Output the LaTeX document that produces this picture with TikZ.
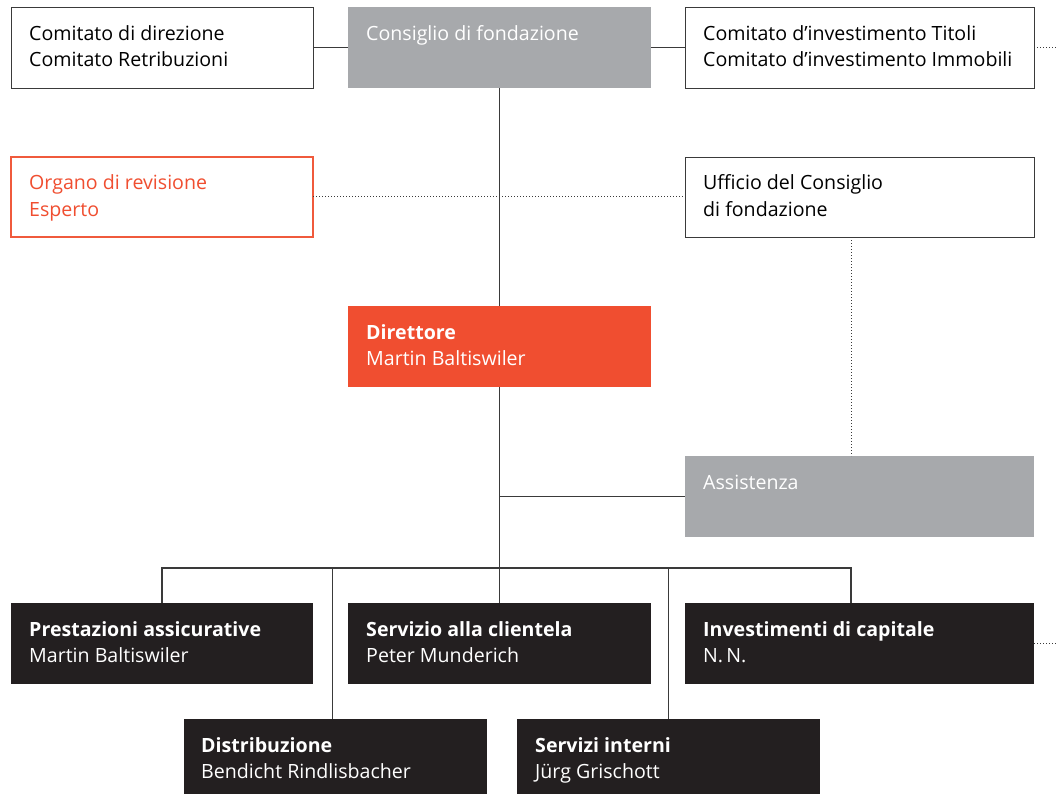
\documentclass[tikz,border=0pt]{standalone}
\usepackage{fontspec}
\setmainfont{Open Sans}
\usetikzlibrary{calc}
\definecolor{cgray}{HTML}{A7A9AC}
\definecolor{corange}{HTML}{F04E30}
\definecolor{cdark}{HTML}{231F20}
\definecolor{cline}{HTML}{3A3A3A}
\definecolor{corangeline}{HTML}{F05A3C}
\tikzset{
 box/.style={rectangle, minimum height=81pt, anchor=north west, inner sep=0pt, outer sep=0pt},
 wbox/.style={box, draw=cline, line width=0.9pt, fill=white},
 gbox/.style={box, fill=cgray},
 obox/.style={box, fill=corange},
 dbox/.style={box, fill=cdark},
 rbox/.style={box, draw=corangeline, line width=1.2pt, fill=white},
 txt/.style={anchor=base west, align=left, inner sep=0pt, font=\fontsize{19.6}{26.5}\selectfont},
 conn/.style={draw=cline, line width=1.2pt},
 dots/.style={draw=cline, line width=1pt, dotted},
}
\begin{document}
\begin{tikzpicture}[x=1pt,y=-1pt]
\useasboundingbox (0,0) rectangle (1056,794);
% boxes
\node[wbox, minimum width=302pt] (cd) at (11,7) {};
\node[gbox, minimum width=303pt] (cf) at (348,7) {};
\node[wbox, minimum width=349pt] (ci) at (685,7) {};
\node[rbox, minimum width=302pt, minimum height=80pt] (org) at (11,157) {};
\node[wbox, minimum width=349pt, minimum height=80pt] (uff) at (685,157) {};
\node[obox, minimum width=303pt] (dir) at (348,306) {};
\node[gbox, minimum width=349pt] (ass) at (685,456) {};
\node[dbox, minimum width=302pt] (pre) at (11,603) {};
\node[dbox, minimum width=303pt] (ser) at (348,603) {};
\node[dbox, minimum width=349pt] (inv) at (685,603) {};
\node[dbox, minimum width=303pt, minimum height=75pt] (dis) at (184,719) {};
\node[dbox, minimum width=303pt, minimum height=75pt] (sin) at (517,719) {};
% texts (anchor = baseline of last line)
\node[txt, text=black] (cdt) at ($(cd.north west)+(18,60)$) {Comitato di direzione\\Comitato Retribuzioni};
\node[txt, text=white] (cft) at ($(cf.north west)+(18,33.5)$) {Consiglio di fondazione};
\node[txt, text=black] (cit) at ($(ci.north west)+(18,60)$) {Comitato d’investimento Titoli\\Comitato d’investimento Immobili};
\node[txt, text=corange] (orgt) at ($(org.north west)+(18,59.5)$) {Organo di revisione\\Esperto};
\node[txt, text=black] (ufft) at ($(uff.north west)+(18,59.5)$) {Ufficio del Consiglio\\di fondazione};
\node[txt, text=white] (dirt) at ($(dir.north west)+(18,59.5)$) {\textbf{Direttore}\\Martin Baltiswiler};
\node[txt, text=white] (asst) at ($(ass.north west)+(18,33)$) {Assistenza};
\node[txt, text=white] (pret) at ($(pre.north west)+(18,59.5)$) {\textbf{Prestazioni assicurative}\\Martin Baltiswiler};
\node[txt, text=white] (sert) at ($(ser.north west)+(18,59.5)$) {\textbf{Servizio alla clientela}\\Peter Munderich};
\node[txt, text=white] (invt) at ($(inv.north west)+(18,59.5)$) {\textbf{Investimenti di capitale}\\N.\,N.};
\node[txt, text=white] (dist) at ($(dis.north west)+(17,59.5)$) {\textbf{Distribuzione}\\Bendicht Rindlisbacher};
\node[txt, text=white] (sint) at ($(sin.north west)+(18,59.5)$) {\textbf{Servizi interni}\\Jürg Grischott};
% coordinates
\coordinate (bus) at (500,568);
\coordinate (eR1) at (1056,47.5);
\coordinate (eR2) at (1056,643.5);
\coordinate (invdrop) at ($(inv.north west)+(166,0)$);
\coordinate (uffdrop) at ($(uff.south west)+(166,0)$);
\coordinate (disdrop) at ($(dis.north)+(-3,0)$);
% connectors
\draw[conn] (cd.east) -- (cf.west);
\draw[conn] (cf.east) -- (ci.west);
\draw[dots] (ci.east) -- (eR1);
\draw[conn] (cf.south) -- (dir.north);
\draw[dots] (org.east) -- (uff.west);
\draw[dots] (uffdrop) -- (uffdrop |- ass.north);
\draw[conn] (dir.south) -- (dir.south |- bus);
\draw[conn] (dir.south |- ass.west) -- (ass.west);
\draw[conn] (pre.north) -- (pre.north |- bus) -- (invdrop |- bus) -- (invdrop);
\draw[conn] (disdrop) -- (disdrop |- bus);
\draw[conn] (ser.north) -- (ser.north |- bus);
\draw[conn] (sin.north) -- (sin.north |- bus);
\draw[dots] (inv.east) -- (eR2);
\end{tikzpicture}
\end{document}
